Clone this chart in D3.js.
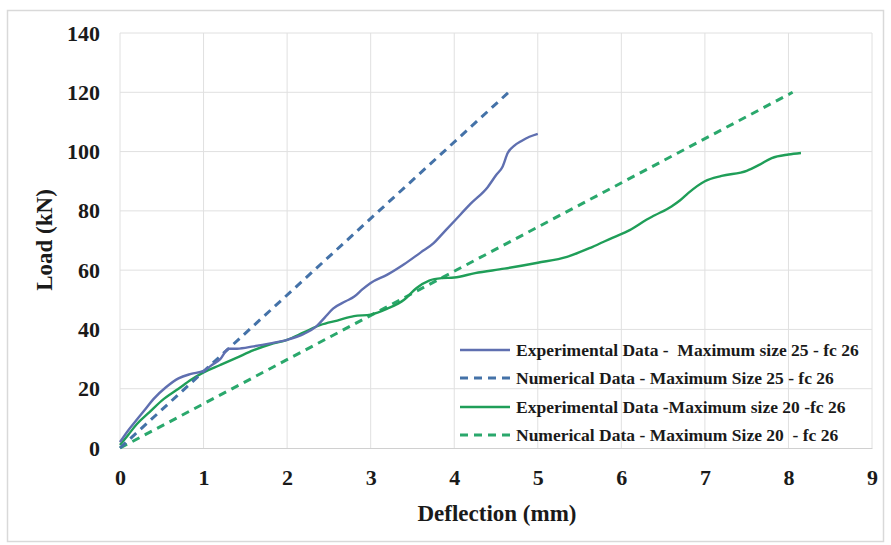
<!DOCTYPE html>
<html><head><meta charset="utf-8">
<script src="https://cdn.jsdelivr.net/npm/d3@7"></script>
<style>html,body{margin:0;padding:0;background:#fff;}svg{display:block;}</style>
</head><body>
<svg id="chart" width="891" height="545"></svg>
<script>
// ---- data ----
const exp25X = [0,0.1,0.2,0.3,0.4,0.55,0.7,0.85,1.0,1.1,1.2,1.3,1.4,1.6,1.8,2.0,2.2,2.35,2.45,2.55,2.7,2.8,2.9,3.0,3.2,3.4,3.6,3.75,3.85,4.0,4.2,4.4,4.5,4.58,4.64,4.72,4.8,4.9,5.0];
const exp25Y = [2,6,9.5,13,16.5,20.5,23.5,25,26,28,30,33.5,33.5,34.3,35.3,36.5,38.5,41,44,47,49.5,51,53.5,55.7,58.5,62,66,69,72,76.5,82.5,88,92,95,99.5,102,103.5,105,106];
const num25X = [0, 4.67];
const num25Y = [0, 120.5];
const exp20X = [0,0.1,0.2,0.35,0.5,0.7,0.85,1.0,1.2,1.4,1.6,1.8,2.0,2.2,2.4,2.6,2.8,3.0,3.2,3.4,3.55,3.7,3.85,4.0,4.25,4.6,5.0,5.35,5.65,5.9,6.1,6.3,6.4,6.6,6.7,6.8,7.0,7.2,7.5,7.65,7.8,8.0,8.15];
const exp20Y = [1,4.5,8,12,16,20,23,25.5,28,30.5,33,35,36.5,39,41.5,43,44.5,45,47,50,54,56.5,57.3,57.5,59,60.5,62.5,64.5,67.8,71,73.5,77,78.5,81.5,83.5,86,90,91.8,93.5,95.5,97.8,99,99.5];
const num20X = [0, 8.05];
const num20Y = [0, 120];
const xTicks = [0,1,2,3,4,5,6,7,8,9];
const yTicks = [0,20,40,60,80,100,120,140];
const seriesNames = [
  "Experimental Data -  Maximum size 25 - fc 26",
  "Numerical Data - Maximum Size 25 - fc 26",
  "Experimental Data -Maximum size 20 -fc 26",
  "Numerical Data - Maximum Size 20  - fc 26"
];
const seriesColors = ["#5f6fb0", "#4472a8", "#1f9e58", "#2aa86c"];
const seriesDashed = [false, true, false, true];

// ---- chart ----
const FONT = '"Liberation Serif"';
const svg = d3.select("#chart");
function styleText(sel, size){
  return sel.style("font-family",FONT).style("font-weight","bold").style("font-size",size+"px")
    .style("white-space","pre").attr("fill","#1a1a1a");
}
svg.append("rect").attr("x",7.5).attr("y",10.5).attr("width",876).attr("height",531)
  .attr("fill","#fff").attr("stroke","#d9d9d9").attr("stroke-width",1.5);

const x = d3.scaleLinear().domain([0,9]).range([120,872]);
const y = d3.scaleLinear().domain([0,140]).range([448,33]);

const g = svg.append("g");
g.selectAll("line.vg").data(xTicks).join("line")
  .attr("x1",d=>x(d)).attr("x2",d=>x(d)).attr("y1",y(0)).attr("y2",y(140))
  .attr("stroke","#e0e0e0").attr("stroke-width",1);
g.selectAll("line.hg").data(yTicks.slice(1)).join("line")
  .attr("x1",x(0)).attr("x2",x(9)).attr("y1",d=>y(d)).attr("y2",d=>y(d))
  .attr("stroke","#e0e0e0").attr("stroke-width",1);

const xAxis = d3.axisBottom(x).tickValues(xTicks).tickSize(0).tickPadding(21).tickFormat(d3.format("d"));
const yAxis = d3.axisLeft(y).tickValues(yTicks).tickSize(0).tickPadding(20).tickFormat(d3.format("d"));
const gx = svg.append("g").attr("transform",`translate(0,${y(0)})`).call(xAxis);
const gy = svg.append("g").attr("transform",`translate(${x(0)},0)`).call(yAxis);
gx.select(".domain").attr("stroke","#d0d0d0").attr("stroke-width",1.2);
gy.select(".domain").remove();
[gx,gy].forEach(a=>styleText(a.selectAll("text"),22));

const allSeries = [[exp25X,exp25Y],[num25X,num25Y],[exp20X,exp20Y],[num20X,num20Y]];
const line = d3.line().x(d=>x(d[0])).y(d=>y(d[1])).curve(d3.curveMonotoneX);
const order = [3,2,1,0];
order.forEach(i=>{
  const pts = allSeries[i][0].map((v,j)=>[v, allSeries[i][1][j]]);
  svg.append("path").datum(pts).attr("d",line).attr("fill","none")
    .attr("stroke",seriesColors[i]).attr("stroke-width",seriesDashed[i]?3:2.4)
    .attr("stroke-dasharray",seriesDashed[i]?"8,6":null).attr("stroke-linecap","butt");
});

styleText(svg.append("text").attr("x",497).attr("y",521).attr("text-anchor","middle"),23)
  .text("Deflection (mm)");
styleText(svg.append("text").attr("transform","translate(52,240) rotate(-90)").attr("text-anchor","middle"),23)
  .text("Load (kN)");

const leg = svg.append("g");
const legY = [350,378,407,435];
seriesNames.forEach((name,i)=>{
  leg.append("line").attr("x1",460).attr("x2",510).attr("y1",legY[i]).attr("y2",legY[i])
    .attr("stroke",seriesColors[i]).attr("stroke-width",seriesDashed[i]?3:2.4)
    .attr("stroke-dasharray",seriesDashed[i]?"8,6":null);
  styleText(leg.append("text").attr("x",516).attr("y",legY[i]+6),17.5).text(name);
});
</script>
</body></html>
